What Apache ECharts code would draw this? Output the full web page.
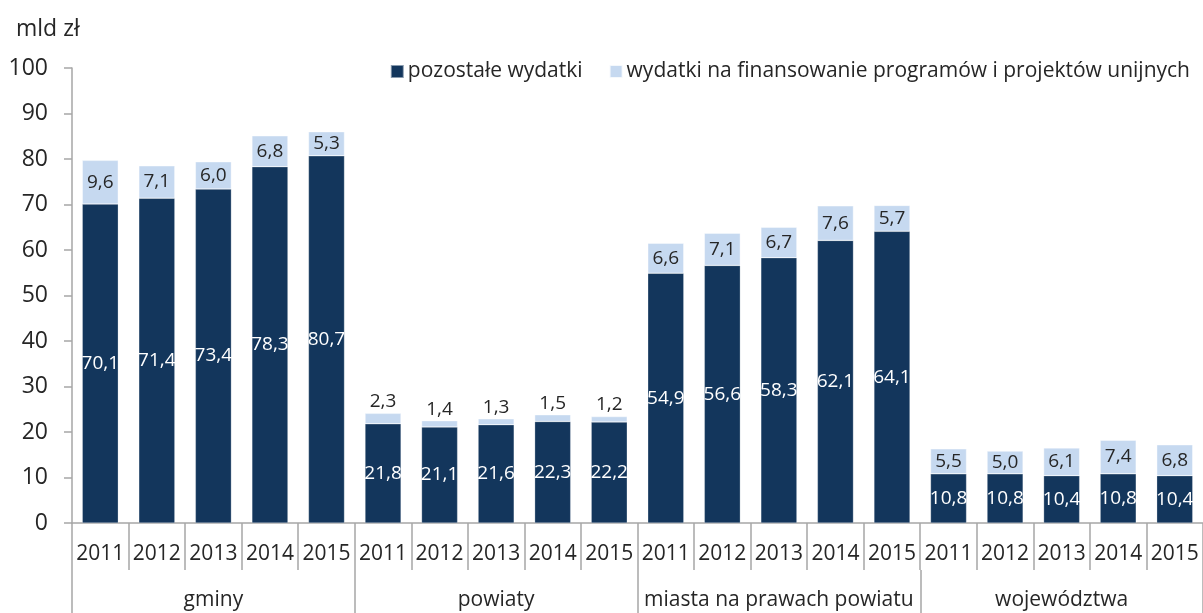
<!DOCTYPE html>
<html>
<head>
<meta charset="utf-8">
<script src="https://cdn.jsdelivr.net/npm/echarts@6/dist/echarts.min.js"></script>
<style>
  html, body { margin: 0; padding: 0; background: #fff; }
  #chart { width: 1203px; height: 613px; }
</style>
</head>
<body>
<div id="chart"></div>
<script>
const years = ['2011', '2012', '2013', '2014', '2015']
const groups = ['gminy', 'powiaty', 'miasta na prawach powiatu', 'województwa']
const categories = groups.flatMap(() => years)

// pozostałe wydatki
const otherSpending = [
  70.1, 71.4, 73.4, 78.3, 80.7,
  21.8, 21.1, 21.6, 22.3, 22.2,
  54.9, 56.6, 58.3, 62.1, 64.1,
  10.8, 10.8, 10.4, 10.8, 10.4
]
// wydatki na finansowanie programów i projektów unijnych
const euSpending = [
  9.6, 7.1, 6.0, 6.8, 5.3,
  2.3, 1.4, 1.3, 1.5, 1.2,
  6.6, 7.1, 6.7, 7.6, 5.7,
  5.5, 5.0, 6.1, 7.4, 6.8
]

const FONT = 'Open Sans'
const TEXT = '#262626'
const AXIS = '#a6a6a6'
const DARK = '#13365c'
const LIGHT = '#c6d9f0'

const fmt = v => v.toFixed(1).replace('.', ',')

const chart = echarts.init(document.getElementById('chart'), null, { renderer: 'canvas' })
chart.setOption({
  animation: false,
  backgroundColor: '#fff',
  textStyle: { fontFamily: FONT, color: TEXT },
  title: {
    text: 'mld zł', left: 11, top: 13,
    textStyle: { fontFamily: FONT, fontSize: 23, fontWeight: 'normal', color: TEXT }
  },
  legend: {
    right: 8, top: 56, icon: 'rect', itemWidth: 13, itemHeight: 13, itemGap: 26,
    textStyle: { fontFamily: FONT, fontSize: 21, color: TEXT, padding: [0, 0, 0, -1] },
    data: ['pozostałe wydatki', 'wydatki na finansowanie programów i projektów unijnych']
  },
  grid: { left: 72, right: 0, top: 68, bottom: 90, outerBoundsMode: 'none' },
  xAxis: [{
    type: 'category', data: categories, position: 'bottom',
    axisLine: { show: true, lineStyle: { color: AXIS, width: 1.5 } },
    axisTick: { show: true, interval: 0, alignWithLabel: false, length: 47, lineStyle: { color: AXIS, width: 1.5 } },
    axisLabel: { interval: 0, margin: 21, fontFamily: FONT, fontSize: 21, color: TEXT }
  }, {
    type: 'category', data: groups, position: 'bottom', offset: 47,
    axisLine: { show: false },
    axisTick: { show: true, interval: 0, alignWithLabel: false, length: 50, lineStyle: { color: AXIS, width: 1.5 } },
    axisLabel: { interval: 0, margin: 20, fontFamily: FONT, fontSize: 21, color: TEXT }
  }],
  yAxis: {
    type: 'value', min: 0, max: 100, interval: 10,
    axisLine: { show: true, lineStyle: { color: AXIS, width: 1.5 } },
    axisTick: { show: true, length: 8, lineStyle: { color: AXIS, width: 1.5 } },
    splitLine: { show: false },
    axisLabel: { margin: 24, fontFamily: FONT, fontSize: 23, color: TEXT }
  },
  series: [{
    name: 'pozostałe wydatki', type: 'bar', stack: 'total', barWidth: 36,
    itemStyle: { color: DARK, borderColor: 'rgba(255,255,255,0.5)', borderWidth: 0.5 },
    label: {
      show: true, position: 'inside', formatter: p => fmt(p.value),
      fontFamily: FONT, fontSize: 19, color: '#fff'
    },
    data: otherSpending
  }, {
    name: 'wydatki na finansowanie programów i projektów unijnych', type: 'bar', stack: 'total', barWidth: 36,
    itemStyle: { color: LIGHT, borderColor: 'rgba(255,255,255,0.8)', borderWidth: 0.5 },
    label: {
      show: true, formatter: p => fmt(p.value),
      fontFamily: FONT, fontSize: 19, color: TEXT
    },
    data: euSpending.map(v => ({
      value: v,
      label: v < 3 ? { position: 'top', distance: 2 } : { position: 'inside' }
    }))
  }]
})
</script>
</body>
</html>
